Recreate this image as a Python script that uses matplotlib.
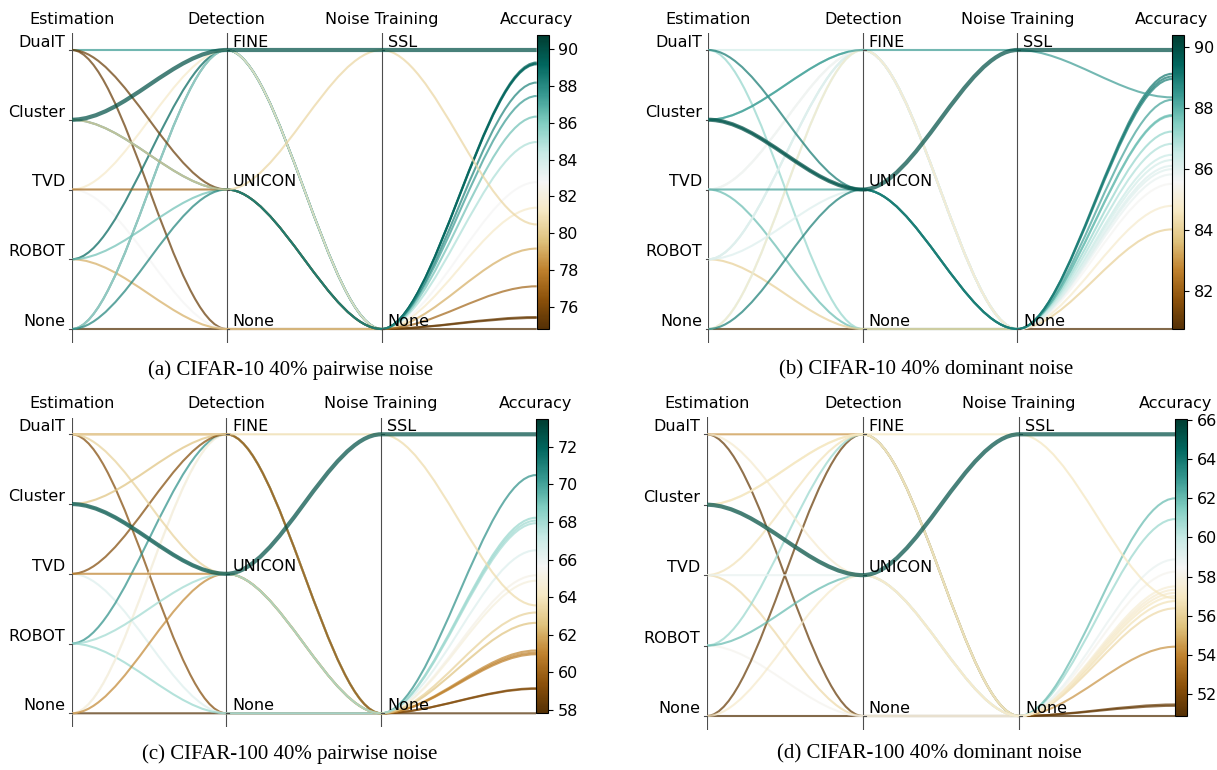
import numpy as np
import matplotlib
matplotlib.use("Agg")
import matplotlib.pyplot as plt
from matplotlib.path import Path
import matplotlib.patches as patches
from matplotlib.cm import ScalarMappable
from matplotlib.colors import Normalize

axis_names = ["Estimation", "Detection", "Noise Training", "Accuracy"]
est_levels = ["None", "ROBOT", "TVD", "Cluster", "DualT"]
det_levels = ["None", "UNICON", "FINE"]
train_levels = ["None", "SSL"]

# (a) CIFAR-10 40% pairwise noise
a_est = ["None", "DualT", "TVD", "ROBOT", "DualT", "ROBOT", "None", "None", "TVD",
         "ROBOT", "DualT", "TVD", "Cluster", "None", "Cluster", "Cluster"]
a_det = ["None", "None", "None", "None", "FINE", "FINE", "FINE", "FINE", "FINE",
         "UNICON", "UNICON", "UNICON", "UNICON", "UNICON", "UNICON", "FINE"]
a_train = ["None"] * 14 + ["SSL", "SSL"]
a_acc = [74.80, 75.40, 82.78, 79.17, 87.46, 89.18, 89.28, 84.96, 81.39,
         86.34, 75.45, 77.12, 89.22, 88.19, 80.48, 89.96]

# (b) CIFAR-10 40% dominant noise
b_est = ["None", "TVD", "DualT", "ROBOT", "Cluster", "DualT", "ROBOT", "TVD", "ROBOT",
         "None", "TVD", "None", "ROBOT", "DualT", "TVD", "Cluster", "None",
         "Cluster", "Cluster"]
b_det = ["None", "None", "None", "None", "FINE", "FINE", "FINE", "FINE", "FINE",
         "FINE", "FINE", "FINE", "UNICON", "UNICON", "UNICON", "UNICON", "UNICON",
         "FINE", "UNICON"]
b_train = ["None"] * 17 + ["SSL", "SSL"]
b_acc = [80.76, 87.76, 87.22, 84.02, 87.73, 86.29, 86.82, 85.99, 85.82,
         86.46, 85.51, 84.79, 86.10, 89.02, 88.26, 89.11, 88.94,
         88.34, 89.89]

# (c) CIFAR-100 40% pairwise noise
c_est = ["None", "DualT", "TVD", "ROBOT", "DualT", "None", "ROBOT", "None", "Cluster",
         "TVD", "Cluster", "None", "TVD", "DualT", "ROBOT", "DualT", "Cluster"]
c_det = ["None", "None", "None", "None", "FINE", "FINE", "FINE", "FINE", "FINE",
         "FINE", "UNICON", "UNICON", "UNICON", "UNICON", "UNICON", "FINE", "UNICON"]
c_train = ["None"] * 15 + ["SSL", "SSL"]
c_acc = [57.82, 59.12, 66.49, 68.22, 60.96, 65.16, 70.49, 64.87, 62.63,
         59.15, 67.93, 61.16, 61.05, 63.18, 68.07, 63.56, 72.66]

# (d) CIFAR-100 40% dominant noise
d_est = ["None", "DualT", "TVD", "ROBOT", "None", "DualT", "ROBOT", "Cluster", "TVD",
         "ROBOT", "TVD", "Cluster", "DualT", "None", "Cluster", "Cluster"]
d_det = ["None", "None", "None", "None", "FINE", "FINE", "FINE", "FINE", "FINE",
         "UNICON", "UNICON", "UNICON", "UNICON", "UNICON", "FINE", "UNICON"]
d_train = ["None"] * 14 + ["SSL", "SSL"]
d_acc = [50.88, 51.40, 56.38, 58.25, 51.47, 54.42, 60.94, 57.00, 56.75,
         62.00, 58.88, 57.50, 57.33, 57.17, 56.89, 65.27]

captions = ["(a) CIFAR-10 40% pairwise noise", "(b) CIFAR-10 40% dominant noise",
            "(c) CIFAR-100 40% pairwise noise", "(d) CIFAR-100 40% dominant noise"]

W, H = 1217, 770
fig = plt.figure(figsize=(W / 100, H / 100), dpi=100)
cmap = plt.get_cmap("BrBG")
YLO, YHI = -0.05, 1.06
PAD = 0.055


def levels_y(values, levels):
    return np.array([levels.index(v) / (len(levels) - 1) for v in values])


def draw_panel(px, est, det, train, acc, caption, cap_xy):
    x0, x3, y1, y0 = px
    unit = y0 - y1
    top = y1 - (YHI - 1) * unit
    bot = y0 - YLO * unit
    ax = fig.add_axes([x0 / W, 1 - bot / H, (x3 - x0) / W, (bot - top) / H])
    ax.set_xlim(0, 3)
    ax.set_ylim(YLO, YHI)
    ax.set_axis_off()

    acc = np.array(acc)
    amin, amax = acc.min(), acc.max()
    vmax = amax + PAD * (amax - amin)
    norm = Normalize(vmin=amin, vmax=vmax)
    zs = np.column_stack([levels_y(est, est_levels), levels_y(det, det_levels),
                          levels_y(train, train_levels), (acc - amin) / (amax - amin)])

    for j in range(len(acc)):
        xs = np.linspace(0, 3, 3 * 4 - 2)
        ys = np.repeat(zs[j], 3)[1:-1]
        verts = list(zip(xs, ys))
        codes = [Path.MOVETO] + [Path.CURVE4] * (len(verts) - 1)
        best = acc[j] == amax
        patch = patches.PathPatch(Path(verts, codes), facecolor="none",
                                  edgecolor=cmap(norm(acc[j])), alpha=0.72,
                                  lw=3.0 if best else 1.5, zorder=3 if best else 2)
        ax.add_patch(patch)

    for i in range(3):
        ax.axvline(i, color="0.3", lw=0.8, zorder=1)

    for i, levels in enumerate([est_levels, det_levels, train_levels]):
        for k, name in enumerate(levels):
            y = k / (len(levels) - 1)
            if i == 0:
                ax.plot([-0.018, 0], [y, y], color="0.3", lw=0.8, clip_on=False)
                ax.annotate(name, xy=(0, y), xytext=(-4.5, 0), textcoords="offset points",
                            ha="right", va="bottom", fontsize=11.5)
            else:
                ax.plot([i, i + 0.018], [y, y], color="0.3", lw=0.8, clip_on=False)
                ax.annotate(name, xy=(i, y), xytext=(4.3, 0), textcoords="offset points",
                            ha="left", va="bottom", fontsize=11.5)

    for i, name in enumerate(axis_names):
        ax.annotate(name, xy=(i, YHI), xytext=(0, 4.5), textcoords="offset points",
                    ha="center", va="bottom", fontsize=11.5, annotation_clip=False)

    cax = ax.inset_axes([3, 0, 0.077, 1 + PAD], transform=ax.transData)
    cb = fig.colorbar(ScalarMappable(norm=norm, cmap=cmap), cax=cax)
    ticks = np.arange(np.ceil(amin / 2) * 2, vmax + 1e-9, 2)
    cb.set_ticks(ticks)
    cb.set_ticklabels([f"{t:.0f}" for t in ticks])
    cb.ax.tick_params(labelsize=11.5)
    cb.outline.set_linewidth(0.8)

    fig.text(cap_xy[0] / W, 1 - cap_xy[1] / H, caption, ha="center", va="center",
             fontsize=15, family=["Liberation Serif", "DejaVu Serif"])


draw_panel((71.7, 536.7, 50, 329), a_est, a_det, a_train, a_acc, captions[0], (291, 370))
draw_panel((708.3, 1172, 50, 329), b_est, b_det, b_train, b_acc, captions[1], (926, 370))
draw_panel((71.7, 536, 434.3, 713.3), c_est, c_det, c_train, c_acc, captions[2], (290, 754))
draw_panel((706.7, 1175.3, 434.3, 716), d_est, d_det, d_train, d_acc, captions[3], (929, 754))

fig.savefig("out.png", dpi=100)
